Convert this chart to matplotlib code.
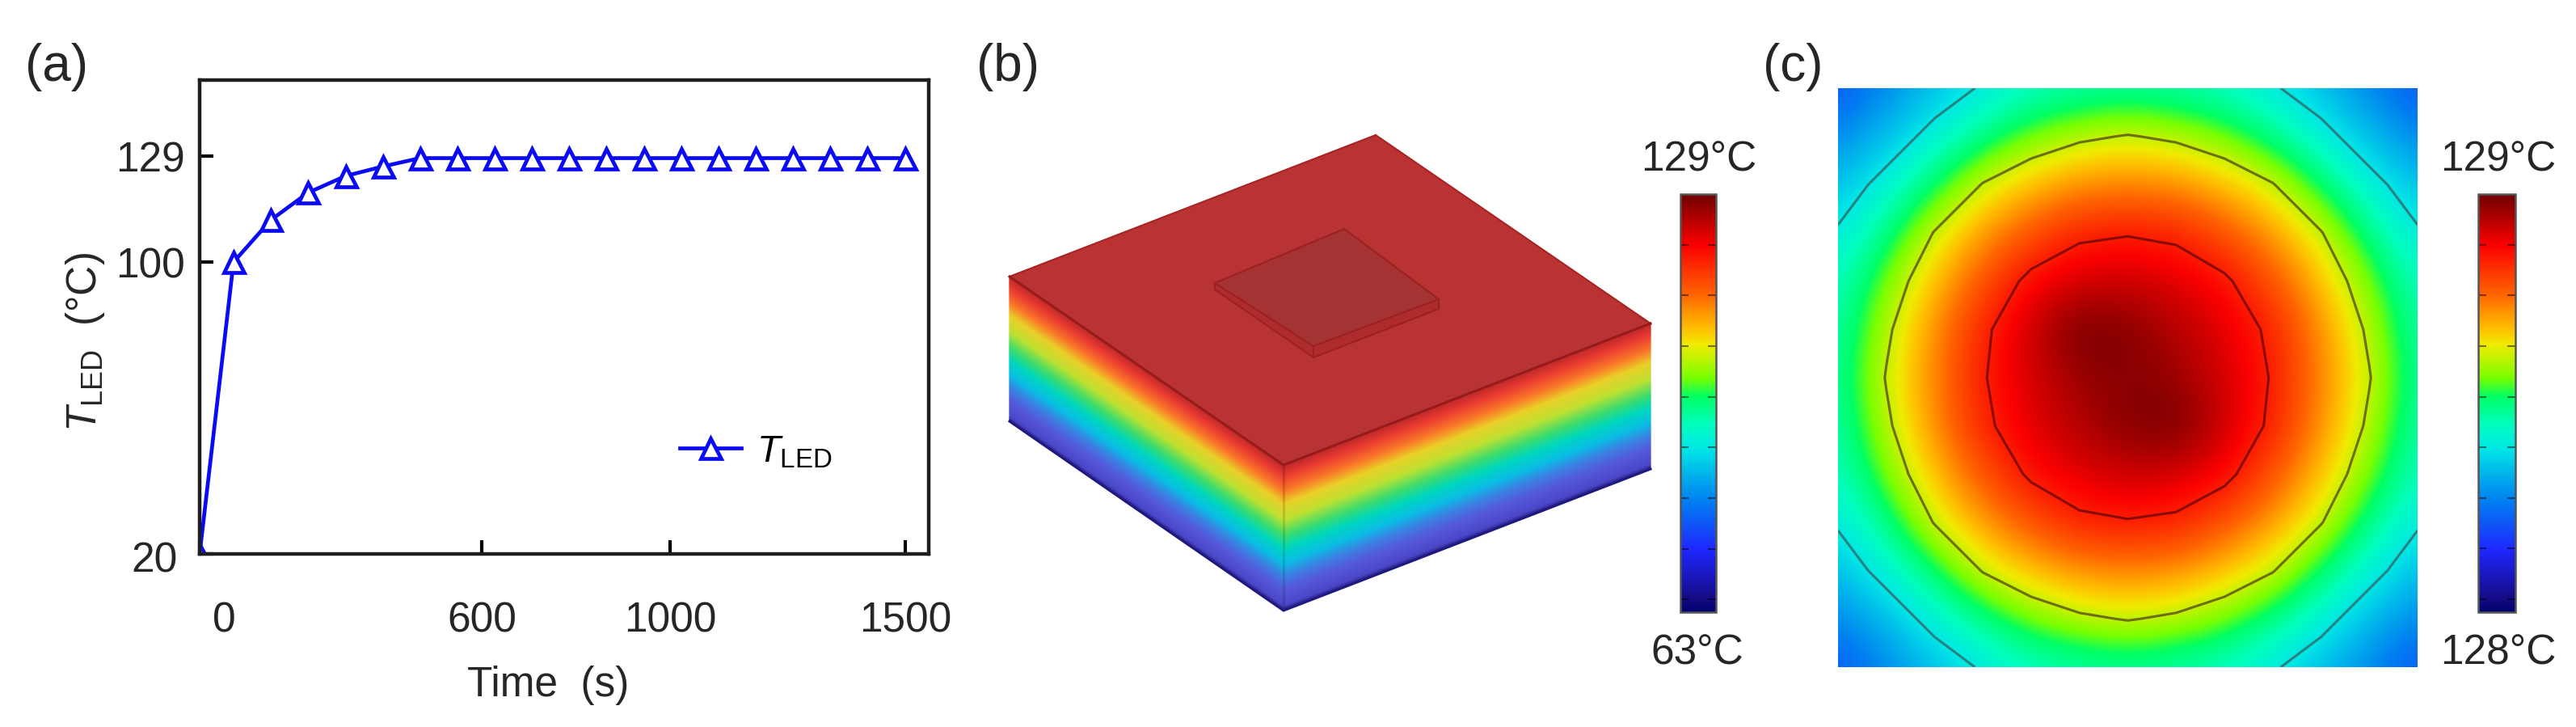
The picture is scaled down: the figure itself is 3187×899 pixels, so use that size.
import numpy as np
import matplotlib
matplotlib.use("Agg")
import matplotlib.pyplot as plt
from matplotlib.cm import ScalarMappable
from matplotlib.colors import LinearSegmentedColormap, Normalize
from matplotlib.patches import Polygon
from matplotlib.transforms import ScaledTranslation

# panel (a)
time_s = [0, 72, 151, 230, 310, 389, 468, 547, 627, 706, 785, 864, 944, 1023, 1102, 1181, 1261, 1340, 1419, 1499]
t_led = [20, 100, 111.5, 119, 123.6, 126.2, 128.5, 128.5, 128.5, 128.5, 128.5, 128.5, 128.5, 128.5, 128.5,
         128.5, 128.5, 128.5, 128.5, 128.5]
x_ticks = [0, 600, 1000, 1500]
y_ticks = [20, 100, 129]

# colour bars
cbar_pos = [0, 0.03, 0.15, 0.27, 0.39, 0.45, 0.515, 0.56, 0.64, 0.68, 0.76, 0.88, 1]
cbar_rgb = ["#00006e", "#140a82", "#1e28ff", "#0082f0", "#00e6e6", "#00ffbe", "#00ff64", "#78ff00",
            "#f0eb00", "#ffbe00", "#ff6400", "#fa0000", "#6e0000"]
cbar_b_ticks = [65, 73, 81, 89, 97, 105, 113, 121]
cbar_c_ticks = [128.03, 128.152, 128.273, 128.394, 128.515, 128.636, 128.758, 128.879]

# side faces of the block in (b): colour against depth
side_depth = [0, 0.08, 0.18, 0.27, 0.38, 0.49, 0.58, 0.68, 0.77, 0.86, 0.97, 1]
side_rgb = ["#be2828", "#eb3c32", "#fa7828", "#ebd028", "#bee132", "#3cdc6e", "#00d7be", "#0abee6",
            "#3c82e1", "#555adc", "#4b46c8", "#281e82"]

# panel (c): temperature over the top surface, estimated on a coarse grid
field_c = [
    [128.21, 128.28, 128.34, 128.40, 128.44, 128.46, 128.47, 128.46, 128.44, 128.40, 128.34, 128.28, 128.21],
    [128.28, 128.34, 128.42, 128.49, 128.56, 128.60, 128.62, 128.60, 128.56, 128.49, 128.42, 128.34, 128.28],
    [128.34, 128.42, 128.51, 128.62, 128.68, 128.72, 128.73, 128.72, 128.68, 128.62, 128.51, 128.42, 128.34],
    [128.40, 128.49, 128.62, 128.71, 128.78, 128.84, 128.85, 128.84, 128.78, 128.71, 128.62, 128.49, 128.40],
    [128.44, 128.56, 128.68, 128.78, 128.88, 128.91, 128.92, 128.90, 128.87, 128.78, 128.68, 128.56, 128.44],
    [128.46, 128.60, 128.72, 128.84, 128.92, 129.00, 128.98, 128.94, 128.90, 128.84, 128.72, 128.60, 128.46],
    [128.47, 128.62, 128.73, 128.85, 128.91, 128.96, 128.98, 128.96, 128.91, 128.85, 128.73, 128.62, 128.47],
    [128.46, 128.60, 128.72, 128.84, 128.90, 128.94, 128.98, 129.00, 128.92, 128.84, 128.72, 128.60, 128.46],
    [128.44, 128.56, 128.68, 128.78, 128.87, 128.90, 128.92, 128.91, 128.88, 128.78, 128.68, 128.56, 128.44],
    [128.40, 128.49, 128.62, 128.71, 128.78, 128.84, 128.85, 128.84, 128.78, 128.71, 128.62, 128.49, 128.40],
    [128.34, 128.42, 128.51, 128.62, 128.68, 128.72, 128.73, 128.72, 128.68, 128.62, 128.51, 128.42, 128.34],
    [128.28, 128.34, 128.42, 128.49, 128.56, 128.60, 128.62, 128.60, 128.56, 128.49, 128.42, 128.34, 128.28],
    [128.21, 128.28, 128.34, 128.40, 128.44, 128.46, 128.47, 128.46, 128.44, 128.40, 128.34, 128.28, 128.21],
]
contour_levels = [128.39, 128.615, 128.855]
contour_colors = ["#288282", "#6e6e14", "#8a0a0a"]

W, H = 3187, 899
DPI = 100
plt.rcParams["font.family"] = ["Liberation Sans", "DejaVu Sans"]
plt.rcParams["mathtext.fontset"] = "custom"
plt.rcParams["mathtext.rm"] = "Liberation Sans"
plt.rcParams["mathtext.it"] = "Liberation Sans:italic"

cmap = LinearSegmentedColormap.from_list("rainbow_bar", list(zip(cbar_pos, cbar_rgb)), N=512)
side_cmap = LinearSegmentedColormap.from_list("side", list(zip(side_depth, side_rgb)), N=512)

fig = plt.figure(figsize=(W / DPI, H / DPI), dpi=DPI)


def add_axes_px(x0, y0, x1, y1):
    return fig.add_axes([x0 / W, 1 - y1 / H, (x1 - x0) / W, (y1 - y0) / H])


def text_px(x, y, s, size=37, ha="center"):
    fig.text(x / W, 1 - y / H, s, fontsize=size, ha=ha, va="center", color="#262626")


def plot_curve():
    ax = add_axes_px(247, 99, 1149, 685)
    ax.plot(time_s, t_led, color="#0a0af5", lw=3.4, marker="^", ms=18, mfc="white", mew=3.4,
            label=r"$\mathit{T}_{\mathrm{LED}}$")
    ax.set_xlim(0, 1549)
    ax.set_ylim(20, 149.9)
    ax.set_xticks(x_ticks)
    ax.set_yticks(y_ticks)
    ax.tick_params(direction="in", length=12, width=3, labelsize=37, labelcolor="#262626")
    ax.tick_params(axis="x", pad=42)
    ax.tick_params(axis="y", pad=13)
    for s in ax.spines.values():
        s.set_linewidth(3.2)
        s.set_color("#1e1e1e")
    # the 0 and 20 labels sit off their ticks in the reference
    shift = ScaledTranslation(30 / DPI, 0, fig.dpi_scale_trans)
    lab = ax.get_xticklabels()[0]
    lab.set_transform(lab.get_transform() + shift)
    shift = ScaledTranslation(-9 / DPI, -3 / DPI, fig.dpi_scale_trans)
    lab = ax.get_yticklabels()[0]
    lab.set_transform(lab.get_transform() + shift)
    ax.set_xlabel("Time  (s)", fontsize=37, color="#262626")
    ax.xaxis.set_label_coords(0.478, -0.235)
    ax.set_ylabel(r"$\mathit{T}_{\mathrm{LED}}$  (°C)", fontsize=37, color="#262626")
    ax.yaxis.set_label_coords(-0.128, 0.447)
    ax.legend(loc="center left", bbox_to_anchor=(0.658, 0.215), frameon=False, fontsize=34,
              handlelength=1.62, handletextpad=0.4, borderpad=0, borderaxespad=0, numpoints=1)


def side_face(ax, top_a, top_b, bot_a, bot_b):
    v = np.linspace(0, 1, 150)
    u = np.array([0.0, 1.0])
    uu, vv = np.meshgrid(u, v)
    top_x = top_a[0] + uu * (top_b[0] - top_a[0])
    top_y = top_a[1] + uu * (top_b[1] - top_a[1])
    bot_x = bot_a[0] + uu * (bot_b[0] - bot_a[0])
    bot_y = bot_a[1] + uu * (bot_b[1] - bot_a[1])
    xx = top_x + vv * (bot_x - top_x)
    yy = top_y + vv * (bot_y - top_y)
    ax.pcolormesh(xx, yy, vv, cmap=side_cmap, vmin=0, vmax=1, shading="gouraud")


def plot_block():
    # this axes is in figure pixels, y down
    ax = add_axes_px(1240, 160, 2050, 765)
    ax.set_xlim(1240, 2050)
    ax.set_ylim(765, 160)
    ax.axis("off")
    left, back, right, front = (1249, 342), (1702, 167), (2042, 400), (1588, 575)
    left_b, right_b, front_b = (1249, 521), (2042, 580), (1588, 755)
    side_face(ax, left, front, left_b, front_b)
    side_face(ax, front, right, front_b, right_b)
    ax.plot(*zip(front, front_b), color="black", alpha=0.13, lw=2.2)
    ax.add_patch(Polygon([left, back, right, front], fc="#ba3333", ec="none"))
    ax.plot(*zip(back, left), color="#a82424", lw=1.5)
    ax.plot(*zip(back, right), color="#a82424", lw=1.5)
    ax.plot(*zip(left, front, right), color="#961c1c", lw=2.2)
    ax.plot(*zip(left_b, front_b, right_b), color="#1e1a80", lw=2.2)
    # LED chip on top
    c_l, c_t, c_r, c_f = (1503, 350), (1663, 283), (1780, 370), (1625, 428)
    c_lb, c_rb, c_fb = (1503, 358), (1780, 382), (1625, 442)
    ax.add_patch(Polygon([c_l, c_f, c_r, c_rb, c_fb, c_lb], fc="#b02c2c", ec="none"))
    ax.add_patch(Polygon([c_l, c_t, c_r, c_f], fc="#a63333", ec="#9c2222", lw=1.6))
    ax.plot(*zip(c_f, c_fb), color="#9c2222", lw=1.4)
    ax.plot(*zip(c_l, c_lb, c_fb, c_rb, c_r), color="#9c2222", lw=1.6)


def plot_surface():
    ax = add_axes_px(2274, 109, 2991, 825)
    data = np.array(field_c)
    n = data.shape[0]
    half = 0.5 / (n - 1)
    ax.imshow(data, cmap=cmap, vmin=128, vmax=129, interpolation="bicubic", interpolation_stage="data",
              extent=(-half, 1 + half, 1 + half, -half), aspect="auto")
    grid = np.linspace(0, 1, n)
    ax.contour(grid, grid, data, levels=contour_levels, colors=contour_colors, linewidths=2.2)
    ax.set_xlim(0, 1)
    ax.set_ylim(1, 0)
    ax.axis("off")


def add_bar(x0, x1, vmin, vmax, ticks):
    cax = add_axes_px(x0, 240, x1, 757)
    sm = ScalarMappable(Normalize(vmin, vmax), cmap)
    cb = fig.colorbar(sm, cax=cax)
    cb.set_ticks(ticks)
    cb.set_ticklabels([])
    cb.outline.set_edgecolor("#555555")
    cb.outline.set_linewidth(1.8)
    cax.tick_params(which="both", direction="in", left=True, right=True, length=7, width=1.5,
                    color="#00000080")
    cax.minorticks_off()


plot_curve()
plot_block()
plot_surface()
add_bar(2079, 2123, 63, 129, cbar_b_ticks)
add_bar(3066, 3112, 128, 129, cbar_c_ticks)

text_px(70, 83, "(a)", size=46)
text_px(1247, 83, "(b)", size=46)
text_px(2218, 83, "(c)", size=46)
text_px(2102, 198, "129°C")
text_px(2100, 808, "63°C")
text_px(3091, 198, "129°C")
text_px(3091, 808, "128°C")

fig.savefig("out.png", dpi=DPI)
